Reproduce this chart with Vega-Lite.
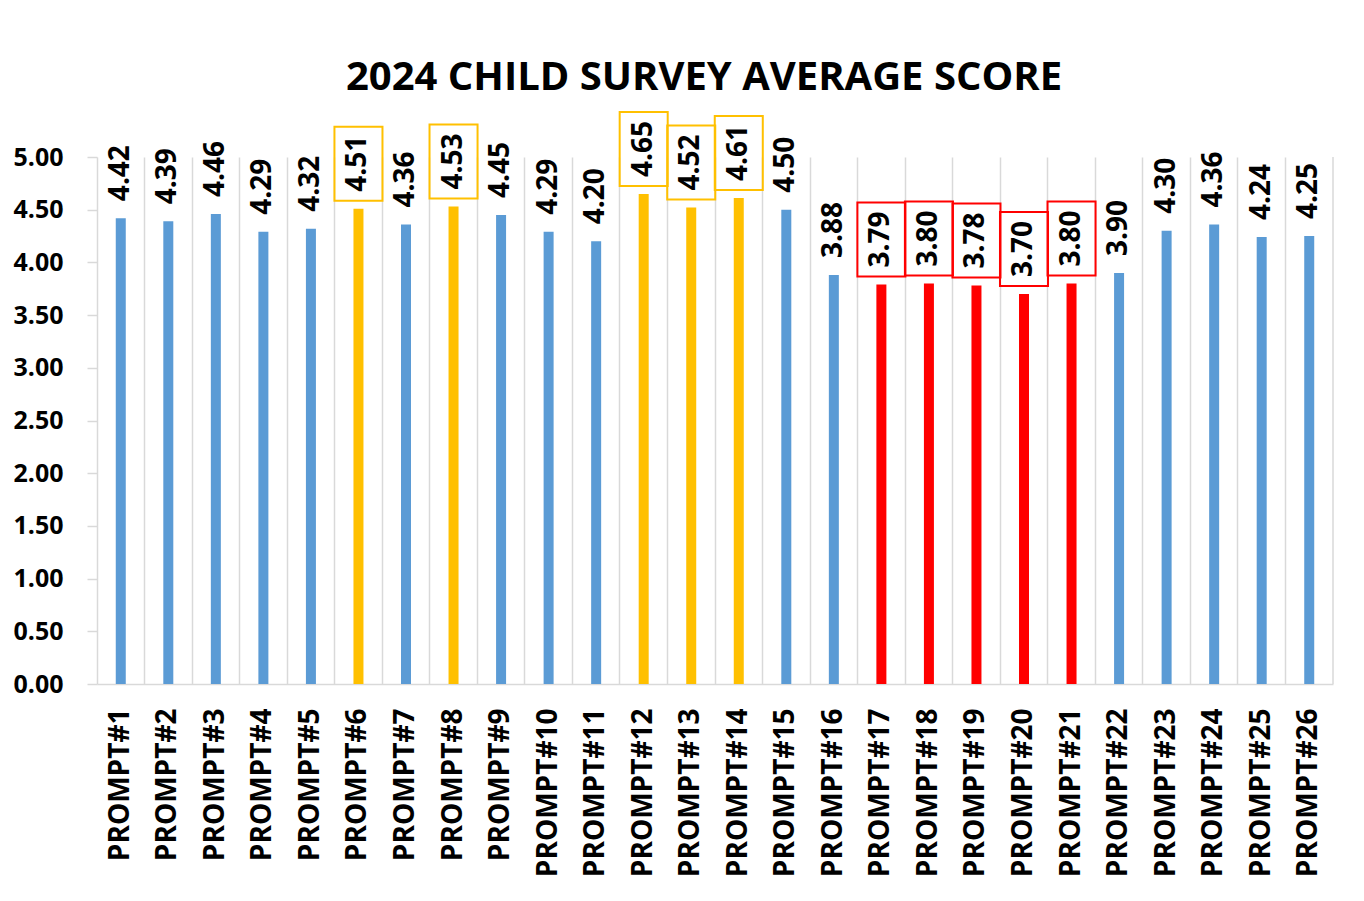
{
  "$schema": "https://vega.github.io/schema/vega-lite/v6.json",
  "autosize": {"type": "none"},
  "width": 1236,
  "height": 527,
  "padding": {"left": 97, "top": 157, "right": 31, "bottom": 217},
  "background": "white",
  "title": {
    "text": "2024 CHILD SURVEY AVERAGE SCORE",
    "font": "Open Sans",
    "fontSize": 40,
    "fontWeight": "bold",
    "color": "#000000",
    "anchor": "middle",
    "frame": "group",
    "baseline": "alphabetic",
    "offset": -22,
    "dx": -11
  },
  "config": {
    "view": {"stroke": null},
    "font": "Open Sans"
  },
  "data": {
    "values": [
      {"prompt": "PROMPT#1", "score": 4.42, "group": "normal"},
      {"prompt": "PROMPT#2", "score": 4.39, "group": "normal"},
      {"prompt": "PROMPT#3", "score": 4.46, "group": "normal"},
      {"prompt": "PROMPT#4", "score": 4.29, "group": "normal"},
      {"prompt": "PROMPT#5", "score": 4.32, "group": "normal"},
      {"prompt": "PROMPT#6", "score": 4.51, "group": "high"},
      {"prompt": "PROMPT#7", "score": 4.36, "group": "normal"},
      {"prompt": "PROMPT#8", "score": 4.53, "group": "high"},
      {"prompt": "PROMPT#9", "score": 4.45, "group": "normal"},
      {"prompt": "PROMPT#10", "score": 4.29, "group": "normal"},
      {"prompt": "PROMPT#11", "score": 4.20, "group": "normal"},
      {"prompt": "PROMPT#12", "score": 4.65, "group": "high"},
      {"prompt": "PROMPT#13", "score": 4.52, "group": "high"},
      {"prompt": "PROMPT#14", "score": 4.61, "group": "high"},
      {"prompt": "PROMPT#15", "score": 4.50, "group": "normal"},
      {"prompt": "PROMPT#16", "score": 3.88, "group": "normal"},
      {"prompt": "PROMPT#17", "score": 3.79, "group": "low"},
      {"prompt": "PROMPT#18", "score": 3.80, "group": "low"},
      {"prompt": "PROMPT#19", "score": 3.78, "group": "low"},
      {"prompt": "PROMPT#20", "score": 3.70, "group": "low"},
      {"prompt": "PROMPT#21", "score": 3.80, "group": "low"},
      {"prompt": "PROMPT#22", "score": 3.90, "group": "normal"},
      {"prompt": "PROMPT#23", "score": 4.30, "group": "normal"},
      {"prompt": "PROMPT#24", "score": 4.36, "group": "normal"},
      {"prompt": "PROMPT#25", "score": 4.24, "group": "normal"},
      {"prompt": "PROMPT#26", "score": 4.25, "group": "normal"}
    ]
  },
  "encoding": {
    "x": {
      "field": "prompt",
      "type": "nominal",
      "sort": null,
      "scale": {"paddingInner": 0, "paddingOuter": 0},
      "axis": {
        "title": null,
        "labelAngle": 270,
        "labelAlign": "right",
        "labelBaseline": "middle",
        "labelFont": "Open Sans",
        "labelFontSize": 28,
        "labelFontWeight": "bold",
        "labelColor": "#000000",
        "labelPadding": 24,
        "ticks": false,
        "domainColor": "#d9d9d9",
        "domainWidth": 1.5,
        "grid": true,
        "gridColor": "#d9d9d9",
        "gridWidth": 1.5,
        "bandPosition": 0
      }
    },
    "y": {
      "field": "score",
      "type": "quantitative",
      "scale": {"domain": [0, 5], "nice": false},
      "axis": {
        "title": null,
        "values": [0, 0.5, 1, 1.5, 2, 2.5, 3, 3.5, 4, 4.5, 5],
        "format": ".2f",
        "grid": false,
        "domain": false,
        "tickColor": "#d9d9d9",
        "tickSize": 10,
        "tickWidth": 1.5,
        "labelFont": "Open Sans",
        "labelFontSize": 25,
        "labelFontWeight": "bold",
        "labelColor": "#000000",
        "labelPadding": 24
      }
    },
    "color": {
      "field": "group",
      "type": "nominal",
      "scale": {"domain": ["normal", "high", "low"], "range": ["#5B9BD5", "#FFC000", "#FF0000"]},
      "legend": null
    }
  },
  "layer": [
    {
      "mark": {"type": "bar", "size": 10}
    },
    {
      "mark": {
        "type": "text",
        "angle": 270,
        "align": "left",
        "baseline": "middle",
        "dx": 17,
        "font": "Open Sans",
        "fontSize": 28,
        "fontWeight": "bold"
      },
      "encoding": {
        "text": {"field": "score", "type": "quantitative", "format": ".2f"},
        "color": {"value": "#000000"}
      }
    },
    {
      "transform": [{"filter": "datum.group !== 'normal'"}],
      "mark": {
        "type": "point",
        "filled": false,
        "shape": "M-0.649,-1H0.649V1H-0.649Z",
        "size": 5476,
        "strokeWidth": 2,
        "opacity": 1,
        "yOffset": -45
      }
    },
    {
      "mark": {"type": "rule", "color": "#d9d9d9", "strokeWidth": 1.5},
      "transform": [{"filter": "datum.prompt === 'PROMPT#26'"}],
      "encoding": {
        "x": {"field": "prompt", "type": "nominal", "sort": null, "bandPosition": 1},
        "y": {"value": 0},
        "y2": {"value": 527},
        "color": {"value": "#d9d9d9"}
      }
    }
  ]
}
